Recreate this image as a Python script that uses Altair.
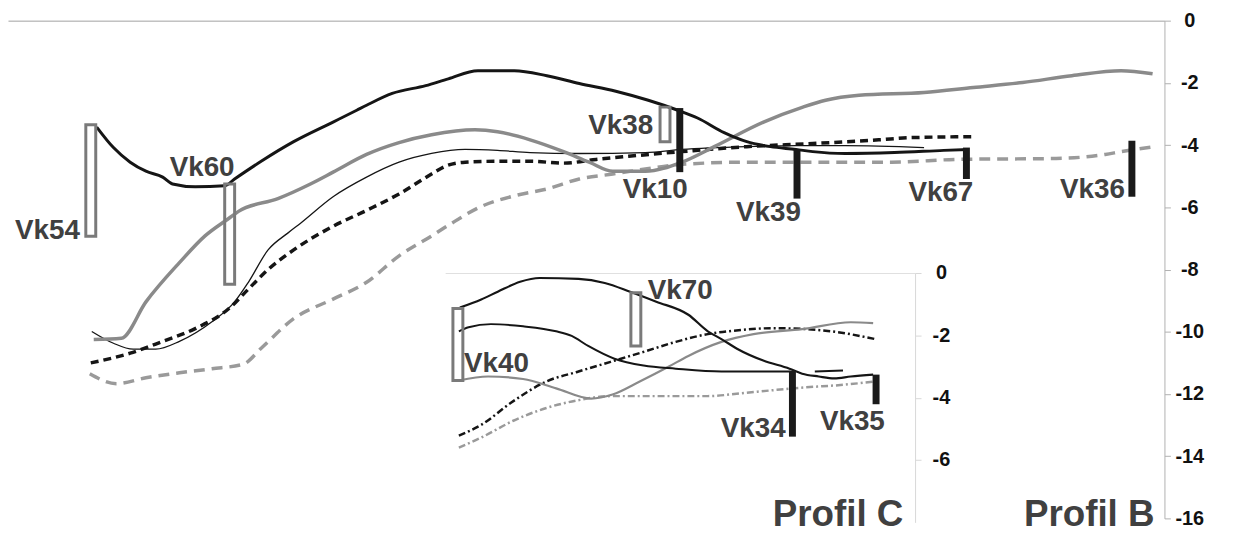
import altair as alt
import pandas as pd

FONT = "Liberation Sans"

# ---------------- Profil B (main section) : distance along section, depth (m)
b1_x = [93,110,127,143,160,170,193,223,233,260,293,333,357,367,393,427,450,480,517,550,583,620,653,683,703,730,753,777,803,820,853,903,953,978]
b1_y = [-3.42,-4.08,-4.55,-4.84,-5.03,-5.25,-5.34,-5.31,-5.09,-4.52,-3.89,-3.26,-2.88,-2.72,-2.34,-2.09,-1.87,-1.61,-1.61,-1.77,-2.02,-2.27,-2.56,-2.88,-3.13,-3.60,-3.89,-4.05,-4.14,-4.21,-4.27,-4.24,-4.17,-4.14]

b2_x = [90,118,143,177,203,227,237,277,310,333,367,400,433,477,500,533,567,593,617,650,687,720,770,810,833,867,933,983,1033,1083,1133,1165]
b2_y = [-10.25,-10.21,-9.04,-7.78,-6.92,-6.36,-6.13,-5.72,-5.25,-4.87,-4.30,-3.92,-3.67,-3.51,-3.57,-3.83,-4.21,-4.55,-4.84,-4.84,-4.55,-4.05,-3.26,-2.78,-2.56,-2.40,-2.31,-2.15,-1.99,-1.77,-1.61,-1.71]

b3_x = [88,110,130,153,177,210,233,247,267,287,300,333,367,400,433,467,500,533,583,650,687,753,803,853,933]
b3_y = [-9.99,-10.37,-10.56,-10.56,-10.31,-9.68,-9.04,-8.41,-7.37,-6.83,-6.51,-5.66,-5.03,-4.55,-4.27,-4.14,-4.17,-4.24,-4.27,-4.24,-4.14,-4.05,-4.02,-4.02,-4.08]

b4_x = [87,127,160,193,227,247,267,293,333,367,400,433,447,467,500,533,567,600,633,687,753,820,887,920,983]
b4_y = [-11.0,-10.69,-10.31,-9.90,-9.26,-8.63,-8.0,-7.37,-6.61,-6.10,-5.57,-4.93,-4.68,-4.55,-4.52,-4.52,-4.58,-4.46,-4.36,-4.21,-4.05,-3.95,-3.83,-3.76,-3.73]

b5_x = [86,113,143,177,210,242,260,293,333,367,400,433,450,483,517,550,583,617,650,687,753,820,900,967,1067,1117,1133,1167]
b5_y = [-11.35,-11.67,-11.48,-11.32,-11.19,-11.04,-10.53,-9.58,-8.95,-8.41,-7.56,-6.92,-6.58,-5.98,-5.63,-5.41,-5.09,-4.93,-4.77,-4.62,-4.55,-4.55,-4.55,-4.46,-4.43,-4.30,-4.21,-4.05]

b_wells = ["Vk54","Vk60","Vk38","Vk10","Vk39","Vk67","Vk36"]
b_well_x = [87,228,670,685,804,976,1144]
b_well_top = [-3.35,-5.25,-2.78,-2.81,-4.14,-4.08,-3.86]
b_well_bot = [-6.93,-8.47,-3.89,-4.87,-5.72,-5.09,-5.66]
b_well_open = [True,True,True,False,False,False,False]
b_lab_x = [76,233,658,693,808,983,1137]
b_lab_y = [-7.02,-5.0,-3.64,-5.69,-6.45,-5.79,-5.69]

profil_names = ["Profil C","Profil B"]
profil_x = [912,1167]
profil_y = [-16.5,-16.5]

b_ticks = [0,-2,-4,-6,-8,-10,-12,-14,-16]

# ---------------- Profil C (inset)
c1_x = [458,480,497,520,540,580,607,633,660,693,713,727,743,770,797,810,827,843,860,883]
c1_y = [-1.11,-0.85,-0.60,-0.28,-0.16,-0.19,-0.32,-0.60,-0.92,-1.34,-1.87,-2.12,-2.43,-2.81,-3.07,-3.23,-3.32,-3.38,-3.32,-3.26]

c2_x = [457,467,490,523,557,573,590,617,647,680,727,797]
c2_y = [-1.87,-1.74,-1.64,-1.71,-1.87,-2.02,-2.34,-2.75,-2.97,-3.07,-3.16,-3.16]
c2b_x = [823,852]
c2b_y = [-3.16,-3.13]

c3_x = [457,487,523,557,593,615,643,673,693,727,760,810,860,883]
c3_y = [-3.45,-3.32,-3.40,-3.70,-4.03,-3.90,-3.48,-3.0,-2.66,-2.21,-1.96,-1.80,-1.58,-1.61]

c4_x = [457,480,513,547,580,613,647,680,713,747,780,813,847,885]
c4_y = [-5.22,-4.87,-4.11,-3.48,-3.16,-2.85,-2.53,-2.21,-1.96,-1.83,-1.77,-1.80,-1.90,-2.12]

c5_x = [457,480,513,547,580,613,647,680,713,747,780,813,847,885]
c5_y = [-5.60,-5.28,-4.74,-4.33,-4.08,-3.95,-3.95,-3.95,-3.95,-3.86,-3.76,-3.67,-3.60,-3.48]

c_wells = ["Vk40","Vk70","Vk34","Vk35"]
c_well_x = [456,639,800,886]
c_well_top = [-1.14,-0.63,-3.13,-3.26]
c_well_bot = [-3.45,-2.34,-5.25,-4.21]
c_well_open = [True,True,False,False]
c_lab_x = [529,718,793,895]
c_lab_y = [-3.16,-0.82,-5.25,-5.03]

c_ticks = [0,-2,-4,-6]

# ---------------- scales / axes
W, H = 1164, 501
bx_scale = alt.Scale(domain=[8,1172], nice=False, zero=False)
by_scale = alt.Scale(domain=[-16,0], nice=False, zero=False)
cx_scale = alt.Scale(domain=[448,921], range=[440,913], nice=False, zero=False)
cy_scale = alt.Scale(domain=[-8,0], range=[505,254], nice=False, zero=False)

bx_axis = alt.Axis(orient="top", domain=True, domainColor="#a0a0a0", domainWidth=1,
                   ticks=False, labels=False, grid=False, title=None)
by_axis = alt.Axis(orient="right", values=b_ticks, labelExpr="'' + datum.value", grid=False,
                   domainColor="#b0b0b0", tickColor="#b0b0b0", tickSize=6,
                   labelFont=FONT, labelFontSize=20, labelFontWeight="bold", labelColor="#111",
                   labelAlign="center", labelBaseline="middle", labelPadding=19,
                   labelFlush=False, labelOverlap=False, title=None)
cx_axis = alt.Axis(orient="top", offset=-254, domain=True, domainColor="#e0e0e0", domainWidth=1,
                   ticks=False, labels=False, grid=False, title=None)
cy_axis = alt.Axis(orient="right", offset=-251, values=c_ticks, labelExpr="'' + datum.value",
                   grid=False, domainColor="#d8d8d8", tickColor="#d8d8d8", tickSize=6,
                   labelFont=FONT, labelFontSize=20, labelFontWeight="bold", labelColor="#111",
                   labelAlign="center", labelBaseline="middle", labelPadding=20,
                   labelFlush=False, labelOverlap=False, title=None)


def enc(xs, ys, which):
    if which == "b":
        return dict(x=alt.X(xs, type="quantitative", scale=bx_scale, axis=bx_axis),
                    y=alt.Y(ys, type="quantitative", scale=by_scale, axis=by_axis))
    return dict(x=alt.X(xs, type="quantitative", scale=cx_scale, axis=cx_axis),
                y=alt.Y(ys, type="quantitative", scale=cy_scale, axis=cy_axis))


def line(xs, ys, which, color, width, dash=None):
    df = pd.DataFrame({"x": xs, "y": ys})
    kw = dict(color=color, strokeWidth=width, interpolate="monotone", strokeCap="butt")
    if dash:
        kw["strokeDash"] = dash
    return alt.Chart(df).mark_line(**kw).encode(**enc("x", "y", which))


def wells(names, xs, tops, bots, opens, which):
    df = pd.DataFrame({"name": names, "x": xs, "top": tops, "bot": bots, "open": opens})
    o = df[df["open"]]
    f = df[~df["open"]]
    l_open = alt.Chart(o).mark_bar(size=10, fillOpacity=0, stroke="#7a7a7a", strokeWidth=3).encode(
        y2="bot:Q", **enc("x", "top", which))
    l_fill = alt.Chart(f).mark_bar(size=7, color="#1a1a1a").encode(
        y2="bot:Q", **enc("x", "top", which))
    return [l_open, l_fill]


def labels(names, xs, ys, which, size, baseline="alphabetic"):
    df = pd.DataFrame({"name": names, "x": xs, "y": ys})
    return alt.Chart(df).mark_text(align="right", baseline=baseline, font=FONT,
                                   fontSize=size, fontWeight="bold", color="#404040").encode(
        text="name:N", **enc("x", "y", which))


main_layers = [
    line(b5_x, b5_y, "b", "#9a9a9a", 3.5, [11, 7]),
    line(b4_x, b4_y, "b", "#151515", 3.5, [8, 5]),
    line(b3_x, b3_y, "b", "#151515", 1.3),
    line(b2_x, b2_y, "b", "#8a8a8a", 3.5),
    line(b1_x, b1_y, "b", "#151515", 3),
] + wells(b_wells, b_well_x, b_well_top, b_well_bot, b_well_open, "b") + [
    labels(b_wells, b_lab_x, b_lab_y, "b", 28),
    labels(profil_names, profil_x, profil_y, "b", 37, "bottom"),
]

inset_layers = [
    line(c5_x, c5_y, "c", "#9a9a9a", 2.5, [7, 3, 2, 3]),
    line(c4_x, c4_y, "c", "#151515", 2.5, [7, 3, 2, 3]),
    line(c3_x, c3_y, "c", "#8a8a8a", 2.2),
    line(c2_x, c2_y, "c", "#151515", 2),
    line(c2b_x, c2b_y, "c", "#151515", 2),
    line(c1_x, c1_y, "c", "#151515", 2.2),
] + wells(c_wells, c_well_x, c_well_top, c_well_bot, c_well_open, "c") + [
    labels(c_wells, c_lab_x, c_lab_y, "c", 28),
]

main = alt.layer(*main_layers)
inset = alt.layer(*inset_layers)

chart = alt.layer(main, inset).resolve_scale(x="independent", y="independent").properties(
    width=W, height=H,
    autosize=alt.AutoSizeParams(type="none"),
    padding={"left": 0, "top": 11, "right": 68, "bottom": 18},
).configure_view(stroke=None)

chart.save("out.html", embed_options={"renderer": "svg", "actions": False})
